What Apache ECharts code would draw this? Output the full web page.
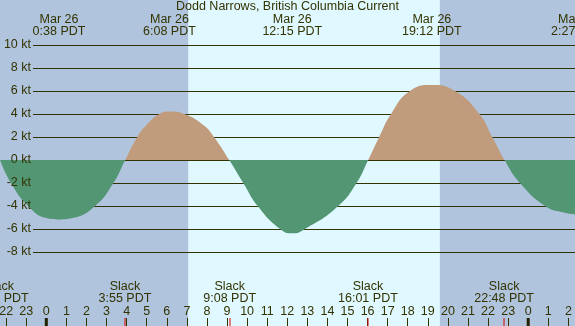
<!DOCTYPE html>
<html>
<head>
<meta charset="utf-8">
<script src="https://cdn.jsdelivr.net/npm/echarts@6/dist/echarts.min.js"></script>
<style>
html, body { margin: 0; padding: 0; background: #b0c4de; }
#chart { width: 575px; height: 326px; }
</style>
</head>
<body>
<div id="chart"></div>
<script>
// current speed: hours after midnight Mar 26, knots (+ flood, - ebb)
var curveHours = [-2.3, -1.76, -0.9, 0.0, 0.63, 1.3, 2.43, 3.34, 3.93,
    4.53, 4.97, 5.63, 6.16, 6.87, 7.85, 8.35, 9.11,
    9.81, 10.53, 11.64, 12.25, 12.88, 14.54, 15.45, 16.03,
    16.58, 17.17, 18.11, 19.19, 20.35, 21.57, 22.21, 22.82,
    23.59, 24.84, 25.7, 26.45];
var curveKnots = [0, -2, -4, -5.05, -5.17, -5.05, -4, -2, 0,
    2, 3, 4, 4.22, 4, 3, 2, 0,
    -2, -4, -6, -6.38, -6, -4, -2, 0,
    2, 4, 6, 6.52, 6, 4, 2, 0,
    -2, -4, -4.55, -4.75];

// max flood / max ebb labels along the top
var extremeDates = ['Mar 26', 'Mar 26', 'Mar 26', 'Mar 26', 'Mar 27'];
var extremeTimes = ['0:38', '6:08', '12:15', '19:12', '2:27'];
var extremeDays = [0, 0, 0, 0, 1];

// slack water labels along the bottom
var slackTimes = ['21:38', '3:55', '9:08', '16:01', '22:48'];
var slackDays = [-1, 0, 0, 0, 0];

// sunrise / sunset
var sunTimes = ['7:04', '19:36'];
var midnights = [0, 24];
var yTicks = { min: -8, max: 10, step: 2 };
var hourAxis = { min: -3, max: 27, step: 1 };

var nightColor = '#b0c4de';
var dayColor = '#e0f8ff';
var floodColor = '#c09c7c';
var ebbColor = '#529673';
var inkColor = '#333300';
var fontFamily = '"Liberation Sans", Arial, sans-serif';
var fontSize = 12.5;

function toHours(t, day) {
    var p = t.split(':');
    return (day || 0) * 24 + Number(p[0]) + Number(p[1]) / 60;
}

var extremeHours = extremeTimes.map(function (t, i) { return [toHours(t, extremeDays[i]), 0]; });
var slackHours = slackTimes.map(function (t, i) { return [toHours(t, slackDays[i]), 0]; });
var sunHours = sunTimes.map(function (t) { return toHours(t); });
var midnightData = midnights.map(function (h) { return [h, 0]; });

var curveData = curveHours.map(function (h, i) { return [h, curveKnots[i]]; });

function textEl(x, y, str) {
    return {
        type: 'text', x: x, y: y,
        style: {
            text: str, fill: inkColor, font: fontSize + 'px ' + fontFamily,
            align: 'center', verticalAlign: 'middle'
        }
    };
}

var myChart = echarts.init(document.getElementById('chart'));

var option = {
    backgroundColor: nightColor,
    animation: false,
    title: {
        text: 'Dodd Narrows, British Columbia Current',
        left: 'center', top: 0, padding: 0,
        textStyle: { color: inkColor, fontSize: fontSize, fontWeight: 'normal', fontFamily: fontFamily }
    },
    grid: [
        // pixel span chosen so hour -3 .. 27 fills the canvas width
        { left: -13.94, right: -13.46, top: 45, bottom: 74, outerBoundsMode: 'none', containLabel: false },
        { left: 33, right: 0, top: 45, bottom: 74, outerBoundsMode: 'none', containLabel: false }
    ],
    xAxis: [{
        gridIndex: 0, type: 'value',
        min: hourAxis.min, max: hourAxis.max, interval: hourAxis.step,
        position: 'bottom', offset: 74,
        axisLine: { show: false, onZero: false },
        axisTick: { show: true, inside: true, length: 8, lineStyle: { color: inkColor, width: 1 } },
        axisLabel: {
            inside: true, margin: 8, color: inkColor, fontSize: fontSize, fontFamily: fontFamily,
            formatter: function (v) { return String(((v % 24) + 24) % 24); }
        },
        splitLine: { show: false }
    }, {
        gridIndex: 1, type: 'value', min: hourAxis.min, max: hourAxis.max, show: false
    }],
    yAxis: [{
        gridIndex: 0, type: 'value', min: yTicks.min, max: yTicks.max, show: false
    }, {
        gridIndex: 1, type: 'value', position: 'left',
        min: yTicks.min, max: yTicks.max, interval: yTicks.step, z: 0,
        axisLine: { show: false, onZero: false }, axisTick: { show: false }, axisLabel: { show: false },
        splitLine: { show: true, lineStyle: { color: inkColor, width: 1 } }
    }, {
        gridIndex: 1, type: 'value', position: 'left',
        min: yTicks.min, max: yTicks.max, interval: yTicks.step, z: 10,
        axisLine: { show: false, onZero: false }, axisTick: { show: false }, splitLine: { show: false },
        axisLabel: {
            margin: 2, color: inkColor, fontSize: fontSize, fontFamily: fontFamily,
            formatter: '{value} kt'
        }
    }],
    series: [{
        // daylight band
        type: 'custom', xAxisIndex: 0, yAxisIndex: 0, z: -1, silent: true,
        data: [[sunHours[0], sunHours[1]]],
        renderItem: function (params, api) {
            var x0 = api.coord([api.value(0), 0])[0];
            var x1 = api.coord([api.value(1), 0])[0];
            return { type: 'rect', shape: { x: x0, y: 0, width: x1 - x0, height: 326 }, style: { fill: dayColor } };
        }
    }, {
        type: 'line', xAxisIndex: 0, yAxisIndex: 0, z: 2,
        data: curveData, symbol: 'none', smooth: 0.5,
        lineStyle: { width: 0 },
        areaStyle: { opacity: 1, color: ebbColor }
    }, {
        // max current times on top
        type: 'custom', xAxisIndex: 0, yAxisIndex: 0, z: 5, silent: true,
        data: extremeHours,
        renderItem: function (params, api) {
            var i = params.dataIndex;
            var x = api.coord([api.value(0), 0])[0];
            return {
                type: 'group', children: [
                    textEl(x, 20, extremeDates[i]),
                    textEl(x, 32, extremeTimes[i] + ' PDT')
                ]
            };
        }
    }, {
        // slack times at the bottom
        type: 'custom', xAxisIndex: 0, yAxisIndex: 0, z: 5, silent: true,
        data: slackHours,
        renderItem: function (params, api) {
            var i = params.dataIndex;
            var x = api.coord([api.value(0), 0])[0];
            return {
                type: 'group', children: [
                    textEl(x, 287, 'Slack'),
                    textEl(x, 299, slackTimes[i] + ' PDT'),
                    { type: 'rect', shape: { x: Math.round(x) - 0.5, y: 318, width: 1, height: 8 }, style: { fill: '#dd0000' } }
                ]
            };
        }
    }, {
        // heavy midnight ticks
        type: 'custom', xAxisIndex: 0, yAxisIndex: 0, z: 5, silent: true,
        data: midnightData,
        renderItem: function (params, api) {
            var x = api.coord([api.value(0), 0])[0];
            return { type: 'rect', shape: { x: x - 1.5, y: 318, width: 3, height: 8 }, style: { fill: '#222200' } };
        }
    }]
};

myChart.setOption(option);

// flood above the zero line, ebb below: split the fill where 0 kt lands on screen
var zeroY = myChart.convertToPixel({ gridIndex: 0 }, [0, 0])[1];
var split = zeroY / 326;
myChart.setOption({
    series: [{}, {
        areaStyle: {
            opacity: 1,
            color: new echarts.graphic.LinearGradient(0, 0, 0, 326, [
                { offset: 0, color: floodColor },
                { offset: split, color: floodColor },
                { offset: split, color: ebbColor },
                { offset: 1, color: ebbColor }
            ], true)
        }
    }]
});
</script>
</body>
</html>
